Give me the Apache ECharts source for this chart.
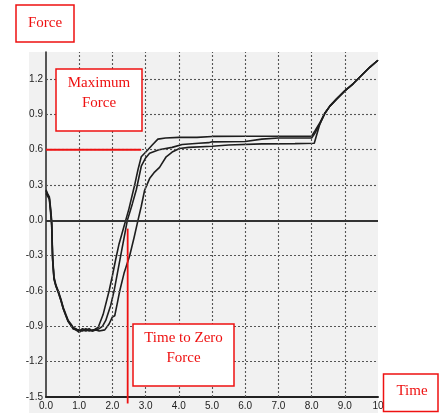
<!DOCTYPE html>
<html>
<head>
<meta charset="utf-8">
<script src="https://cdn.jsdelivr.net/npm/echarts@6/dist/echarts.min.js"></script>
<style>html,body{margin:0;padding:0;background:#fff;}#c{width:439px;height:413px;}</style>
</head>
<body>
<div id="c"></div>
<script>
// ---- data ----
const xTicks = [0,1,2,3,4,5,6,7,8,9,10];
const yTicks = [-1.5,-1.2,-0.9,-0.6,-0.3,0,0.3,0.6,0.9,1.2];
const xGrid = [1,2,3,4,5,6,7,8,9];
const yGrid = [-1.2,-0.9,-0.6,-0.3,0.3,0.6,0.9,1.2];

const tA = [0,0.03,0.06,0.1,0.14,0.17,0.2,0.24,0.3,0.37,0.45,0.52,0.6,0.67,0.75,0.82,0.9,1.0,1.1,1.2,1.3,1.4,1.5,1.57,1.72,1.9,2.0,2.1,2.2,2.34,2.4,2.5,2.67,2.77,2.87,2.97,3.07,3.2,3.37,3.6,4.0,4.55,4.6,5.0,6.0,7.0,8.0,8.1,8.25,8.4,8.55,8.75,9.0,9.25,9.5,9.75,10.0];
const fA = [0.26,0.26,0.22,0.2,0.1,0.0,-0.31,-0.48,-0.55,-0.6,-0.67,-0.74,-0.8,-0.85,-0.88,-0.91,-0.92,-0.94,-0.92,-0.93,-0.92,-0.94,-0.92,-0.91,-0.8,-0.6,-0.47,-0.33,-0.2,-0.06,0.0,0.1,0.3,0.43,0.54,0.57,0.6,0.64,0.69,0.70,0.705,0.705,0.713,0.713,0.715,0.715,0.715,0.76,0.83,0.91,0.97,1.03,1.10,1.16,1.23,1.30,1.36];

const tB = [0,0.03,0.06,0.1,0.14,0.17,0.2,0.24,0.3,0.37,0.45,0.52,0.6,0.67,0.75,0.82,0.9,1.0,1.1,1.2,1.3,1.4,1.5,1.6,1.7,1.8,1.95,2.05,2.15,2.25,2.35,2.45,2.6,2.72,2.87,3.0,3.12,3.4,3.8,4.1,4.6,4.9,5.0,6.0,6.5,7.0,8.0,8.1,8.25,8.4,8.55,8.75,9.0,9.25,9.5,9.75,10.0];
const fB = [0.25,0.24,0.21,0.19,0.08,-0.02,-0.33,-0.49,-0.56,-0.61,-0.68,-0.75,-0.81,-0.86,-0.89,-0.92,-0.93,-0.93,-0.94,-0.92,-0.94,-0.93,-0.93,-0.92,-0.9,-0.85,-0.72,-0.6,-0.45,-0.3,-0.15,0.0,0.14,0.26,0.46,0.53,0.57,0.6,0.62,0.645,0.655,0.66,0.667,0.67,0.69,0.70,0.70,0.74,0.82,0.91,0.97,1.03,1.10,1.16,1.23,1.30,1.36];

const tC = [0,0.03,0.06,0.1,0.14,0.17,0.2,0.24,0.3,0.37,0.45,0.52,0.6,0.67,0.75,0.82,0.9,1.0,1.1,1.2,1.3,1.4,1.5,1.6,1.77,1.9,2.0,2.07,2.15,2.22,2.35,2.52,2.65,2.77,2.87,2.97,3.12,3.27,3.42,3.62,3.8,4.02,4.3,5.0,5.5,6.5,7.5,8.08,8.25,8.4,8.55,8.75,9.0,9.25,9.5,9.75,10.0];
const fC = [0.23,0.23,0.2,0.18,0.06,-0.04,-0.34,-0.5,-0.56,-0.61,-0.68,-0.75,-0.81,-0.86,-0.89,-0.92,-0.93,-0.95,-0.93,-0.94,-0.93,-0.94,-0.93,-0.94,-0.93,-0.88,-0.82,-0.81,-0.7,-0.6,-0.45,-0.3,-0.15,0.0,0.12,0.256,0.355,0.41,0.45,0.54,0.58,0.61,0.62,0.63,0.64,0.65,0.652,0.655,0.82,0.91,0.97,1.03,1.10,1.16,1.23,1.30,1.36];

// annotation values
const maxForce = 0.6, maxForceEnd = 2.87;
const zeroTime = 2.46, zeroLineTop = -0.07, zeroLineBottom = -1.555;

const pairs = (t, f) => t.map((x, i) => [x, f[i]]);
const fmt = v => Math.abs(v) < 1e-9 ? '0.0' : (v === 10 ? '10' : v.toFixed(1));

const chart = echarts.init(document.getElementById('c'), null, {renderer: 'canvas'});
const gridStyle = {color: '#555', width: 1.1, type: [2, 2]};
const curveStyle = {color: '#1e1e1e', width: 1.6};
const red = '#ee1111';
const labelFont = {fontFamily: '"Liberation Sans Narrow", "Liberation Sans", sans-serif', fontSize: 10, color: '#222'};

const boxes = [
  {type: 'rect', z: -10, silent: true, shape: {x: 29, y: 52, width: 349, height: 361}, style: {fill: '#f1f1f1'}},
  {type: 'rect', z: 100, shape: {x: 16, y: 5, width: 58, height: 37}, style: {fill: '#fff', stroke: red, lineWidth: 1.5}},
  {type: 'text', z: 101, style: {text: 'Force', x: 45, y: 23, textAlign: 'center', textVerticalAlign: 'middle', font: '15px "Liberation Serif", serif', fill: red}},
  {type: 'rect', z: 100, shape: {x: 56, y: 69, width: 86, height: 62}, style: {fill: '#fff', stroke: red, lineWidth: 1.5}},
  {type: 'text', z: 101, style: {text: 'Maximum\nForce', x: 99, y: 93, textAlign: 'center', textVerticalAlign: 'middle', font: '15px "Liberation Serif", serif', lineHeight: 20, fill: red}},
  {type: 'rect', z: 100, shape: {x: 133, y: 324, width: 101, height: 62}, style: {fill: '#fff', stroke: red, lineWidth: 1.5}},
  {type: 'text', z: 101, style: {text: 'Time to Zero\nForce', x: 183.5, y: 348, textAlign: 'center', textVerticalAlign: 'middle', font: '15px "Liberation Serif", serif', lineHeight: 20, fill: red}},
  {type: 'rect', z: 100, shape: {x: 383.5, y: 374, width: 54.5, height: 37.5}, style: {fill: '#fff', stroke: red, lineWidth: 1.5}},
  {type: 'text', z: 101, style: {text: 'Time', x: 412, y: 391, textAlign: 'center', textVerticalAlign: 'middle', font: '15px "Liberation Serif", serif', fill: red}}
];

const option = {
  animation: false,
  backgroundColor: '#ffffff',
  grid: {left: 46, right: 61, top: 52, bottom: 16, containLabel: false},
  xAxis: {
    type: 'value', min: 0, max: 10, interval: 1,
    axisLine: {show: true, onZero: false, lineStyle: {color: '#222', width: 2}},
    axisTick: {show: false},
    splitLine: {show: false},
    axisLabel: Object.assign({margin: 4, formatter: fmt}, labelFont)
  },
  yAxis: {
    type: 'value', min: -1.5, max: 1.43, interval: 0.3,
    axisLine: {show: true, onZero: false, lineStyle: {color: '#222', width: 1.5}},
    axisTick: {show: false},
    splitLine: {show: false},
    axisLabel: Object.assign({margin: 3, showMaxLabel: false, formatter: fmt}, labelFont)
  },
  graphic: boxes,
  series: [
    {
      type: 'line', name: 'grid', data: [], silent: true, clip: false, z: 1,
      markLine: {
        silent: true, symbol: 'none', label: {show: false}, animation: false,
        data: [
          ...yGrid.map(v => ({yAxis: v, lineStyle: gridStyle})),
          ...xGrid.map(v => ({xAxis: v, lineStyle: gridStyle})),
          {yAxis: 0, lineStyle: {color: '#333', width: 1.8, type: 'solid'}}
        ]
      }
    },
    {type: 'line', name: 'A', data: pairs(tA, fA), showSymbol: false, lineStyle: curveStyle, z: 3},
    {type: 'line', name: 'B', data: pairs(tB, fB), showSymbol: false, lineStyle: curveStyle, z: 3},
    {type: 'line', name: 'C', data: pairs(tC, fC), showSymbol: false, lineStyle: curveStyle, z: 3}
  ]
};
chart.setOption(option);

// red annotation lines, positioned through the chart's own scales
const p1 = chart.convertToPixel({gridIndex: 0}, [0, maxForce]);
const p2 = chart.convertToPixel({gridIndex: 0}, [maxForceEnd, maxForce]);
const q1 = chart.convertToPixel({gridIndex: 0}, [zeroTime, zeroLineTop]);
const q2 = chart.convertToPixel({gridIndex: 0}, [zeroTime, zeroLineBottom]);
chart.setOption({
  graphic: boxes.concat([
    {type: 'line', z: 50, silent: true, shape: {x1: p1[0], y1: p1[1], x2: p2[0], y2: p2[1]}, style: {stroke: red, lineWidth: 1.8}},
    {type: 'line', z: 50, silent: true, shape: {x1: q1[0], y1: q1[1], x2: q2[0], y2: q2[1]}, style: {stroke: red, lineWidth: 1.8}}
  ])
});
</script>
</body>
</html>
